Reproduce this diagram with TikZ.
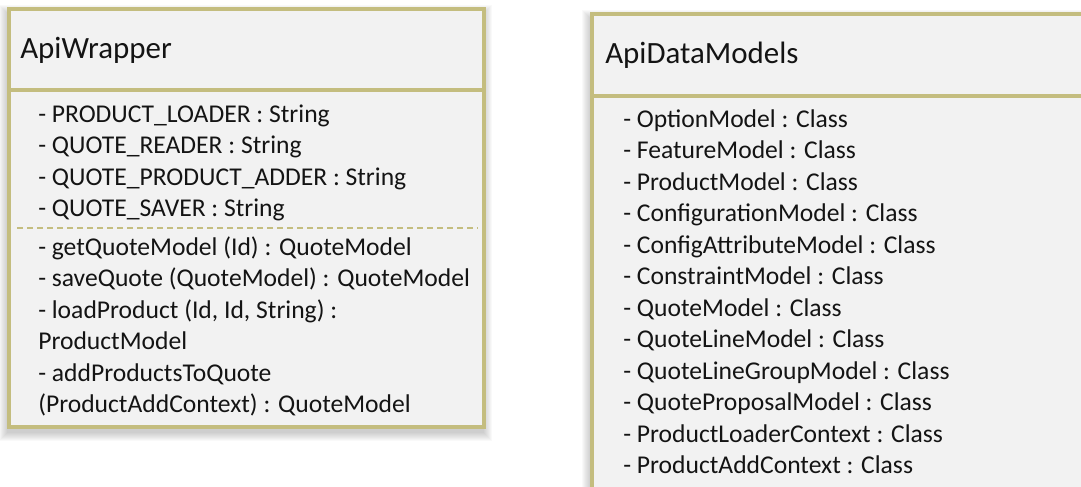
\documentclass[tikz,border=0pt]{standalone}
\usepackage{fontspec}
\setmainfont{Carlito}
\definecolor{olive}{RGB}{196,189,127}
\definecolor{boxfill}{RGB}{242,242,242}
\definecolor{txt}{RGB}{20,20,20}
\begin{document}
\begin{tikzpicture}[x=0.75pt,y=-0.75pt,
  border/.style={draw=olive,line width=2.4pt},
  title/.style={anchor=base west,inner sep=0pt,font=\fontsize{23.2}{27}\selectfont,text=txt},
  item/.style={anchor=base west,inner sep=0pt,font=\fontsize{19.2}{22}\selectfont,text=txt},
  sep/.style={draw=olive,line width=1.5pt,dash pattern=on 4.5pt off 3pt}]
\useasboundingbox (0,0) rectangle (1081,486);
\clip (0,0) rectangle (1081,486);
% shadows
\foreach \i in {1,...,9}{
  \fill[black,opacity=0.022] (9-\i-1,9-\i+5) rectangle (484+\i-1,427+\i+5);
  \fill[black,opacity=0.022] (592-\i-1,14-\i+5) rectangle (1120+\i,540+\i);
}
% left box
\filldraw[border,fill=boxfill] (9,9) rectangle (484,427);
\draw[border] (9,90) -- (484,90);
\draw[sep] (17,228) -- (478,228);
% right box
\filldraw[border,fill=boxfill] (592,14) rectangle (1120,540);
\draw[border] (592,96) -- (1120,96);
% left texts
\node[title] (t1) at (20,58) {ApiWrapper};
\node[item] (a1) at (38,122) {- PRODUCT\_LOADER : String};
\node[item] (a2) at (38,153.5) {- QUOTE\_READER : String};
\node[item] (a3) at (38,185) {- QUOTE\_PRODUCT\_ADDER : String};
\node[item] (a4) at (38,216.5) {- QUOTE\_SAVER : String};
\node[item] (m1) at (38,255) {- getQuoteModel (Id) : QuoteModel};
\node[item] (m2) at (38,286.5) {- saveQuote (QuoteModel) : QuoteModel};
\node[item] (m3) at (38,318) {- loadProduct (Id, Id, String) :};
\node[item] (m4) at (38,349.5) {ProductModel};
\node[item] (m5) at (38,381) {- addProductsToQuote};
\node[item] (m6) at (38,412.5) {(ProductAddContext) : QuoteModel};
% right texts
\node[title] (t2) at (605,63) {ApiDataModels};
\node[item] (b1) at (623,127) {- OptionModel : Class};
\node[item] (b2) at (623,158.5) {- FeatureModel : Class};
\node[item] (b3) at (623,190) {- ProductModel : Class};
\node[item] (b4) at (623,221.5) {- ConfigurationModel : Class};
\node[item] (b5) at (623,253) {- ConfigAttributeModel : Class};
\node[item] (b6) at (623,284.5) {- ConstraintModel : Class};
\node[item] (b7) at (623,316) {- QuoteModel : Class};
\node[item] (b8) at (623,347.5) {- QuoteLineModel : Class};
\node[item] (b9) at (623,379) {- QuoteLineGroupModel : Class};
\node[item] (b10) at (623,410.5) {- QuoteProposalModel : Class};
\node[item] (b11) at (623,442) {- ProductLoaderContext : Class};
\node[item] (b12) at (623,473.5) {- ProductAddContext : Class};
\end{tikzpicture}
\end{document}
